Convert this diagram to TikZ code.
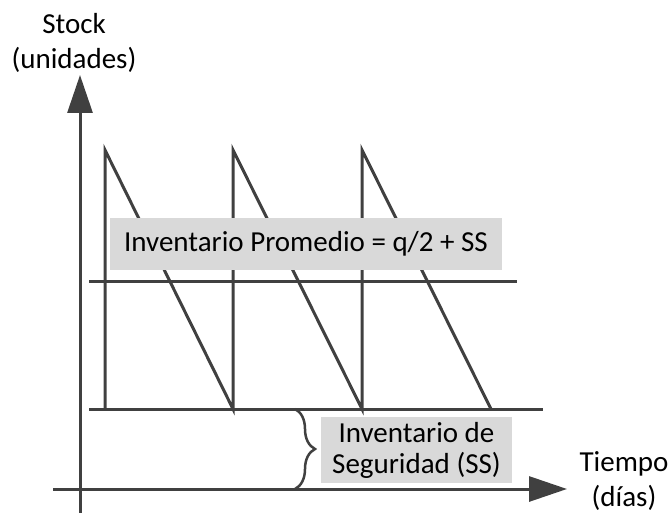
\documentclass[tikz,border=0pt]{standalone}
\usepackage{fontspec}
\setmainfont{Carlito}
\usepackage{xcolor}
\usetikzlibrary{arrows.meta, decorations.pathreplacing, positioning}
\definecolor{linegray}{HTML}{404040}
\definecolor{boxgray}{HTML}{D9D9D9}

\begin{document}
\begin{tikzpicture}[x=1pt, y=-1pt]
            % Styles
            \tikzstyle{axis} = [line width=3pt, draw=linegray, -{Triangle[length=38pt, width=25pt]}]
            \tikzstyle{stockline} = [line width=3pt, draw=linegray]
            \tikzstyle{infobox} = [fill=boxgray, inner sep=0pt, align=center, font=\fontsize{29}{31}\selectfont]
            \tikzstyle{axlabel} = [align=center, font=\fontsize{29}{35}\selectfont]

            \useasboundingbox (0,0) rectangle (671,513);

            % Axes
            \coordinate (ybot) at (80,513);
            \coordinate (ytop) at (80,75);
            \coordinate (xleft) at (53,489);
            \coordinate (xright) at (567,489);
            \draw[axis] (ybot) -- (ytop);
            \draw[axis] (xleft) -- (xright);

            % Average and safety stock levels
            \coordinate (avg_l) at (89,281);
            \coordinate (avg_r) at (517,281);
            \coordinate (ss_l) at (89,409);
            \coordinate (ss_r) at (543,409);
            \draw[stockline] (avg_l) -- (avg_r);
            \draw[stockline] (ss_l) -- (ss_r);

            % Saw-tooth stock
            \draw[stockline] (105,409) -- (105,150) -- (233,409) -- (233,150)
                -- (362,409) -- (362,150) -- (491,409);

            % Labels
            \node[infobox, minimum width=392pt, minimum height=52pt] (promedio) at (306,244)
                {Inventario Promedio = q/2 + SS};
            \node[infobox, minimum width=191pt, minimum height=66pt] (seguridad) at (416.5,450)
                {Inventario de\\Seguridad (SS)};

            % Brace for safety stock
            \draw[line width=2.5pt, draw=linegray, decorate, decoration={brace, amplitude=20pt}]
                (295,409) -- (295,489);

            % Axis titles
            \node[axlabel] (stock) at (74,43) {Stock\\(unidades)};
            \node[axlabel] (tiempo) at (624,481) {Tiempo\\(días)};
        \end{tikzpicture}
\end{document}
